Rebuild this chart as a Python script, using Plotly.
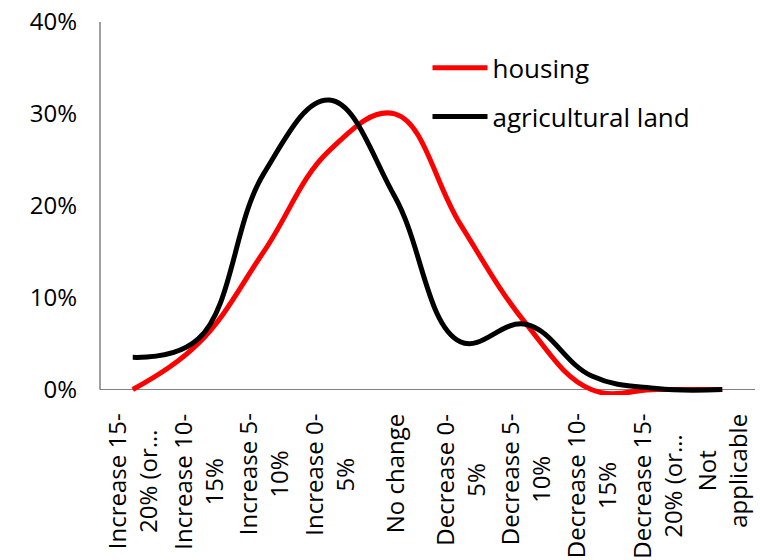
import plotly.graph_objects as go

# Expected price change categories (x axis)
categories = [
    "Increase 15-20% (or…",
    "Increase 10-15%",
    "Increase 5-10%",
    "Increase 0-5%",
    "No change",
    "Decrease 0-5%",
    "Decrease 5-10%",
    "Decrease 10-15%",
    "Decrease 15-20% (or…",
    "Not applicable",
]

# Wrapped text shown under the axis for each category
tick_labels = [
    "Increase 15-<br>20% (or…",
    "Increase 10-<br>15%",
    "Increase 5-<br>10%",
    "Increase 0-<br>5%",
    "No change",
    "Decrease 0-<br>5%",
    "Decrease 5-<br>10%",
    "Decrease 10-<br>15%",
    "Decrease 15-<br>20% (or…",
    "Not<br>applicable",
]

# Share of respondents (%)
housing = [0, 5, 15, 26, 30, 18, 7.2, 0, 0, 0]
agricultural_land = [3.5, 5.5, 23.5, 31.5, 21, 5.2, 7.1, 1.5, 0.1, 0]

y_ticks = [0, 10, 20, 30, 40]
y_tick_text = ["0%", "10%", "20%", "30%", "40%"]

FONT = "Open Sans"
SMOOTH = 1.15

fig = go.Figure()
fig.add_trace(go.Scatter(
    x=categories, y=housing, name="housing", mode="lines",
    line=dict(color="#FF0000", width=5, shape="spline", smoothing=SMOOTH),
    legendgroup="h",
))
fig.add_trace(go.Scatter(
    x=categories, y=agricultural_land, name="agricultural land", mode="lines",
    line=dict(color="#000000", width=5, shape="spline", smoothing=SMOOTH),
    legendgroup="a",
))

# Rotated, centred category labels below the axis
for cat, lab in zip(categories, tick_labels):
    fig.add_annotation(
        x=cat, xref="x", y=0, yref="y",
        text=lab, textangle=-90, align="center",
        xanchor="center", yanchor="top", yshift=-22,
        showarrow=False,
        font=dict(family=FONT, size=24, color="#000000"),
    )

# Vertical axis line from 0% up to the top of the scale
fig.add_shape(
    type="line", xref="paper", yref="y",
    x0=0, x1=0, y0=0, y1=y_ticks[-1],
    line=dict(color="#404040", width=1),
)

fig.update_layout(
    width=760, height=560,
    margin=dict(l=100, r=5, t=22, b=165),
    paper_bgcolor="white", plot_bgcolor="white",
    font=dict(family=FONT, size=24, color="#000000"),
    showlegend=True,
    legend=dict(
        x=0.5, y=0.94, xanchor="left", yanchor="top",
        bgcolor="rgba(0,0,0,0)",
        font=dict(family=FONT, size=26, color="#000000"),
        tracegroupgap=12, itemwidth=55,
    ),
    xaxis=dict(
        type="category", categoryorder="array", categoryarray=categories,
        range=[-0.5, len(categories) - 0.5],
        showticklabels=False, showgrid=False, showline=False, zeroline=False,
        ticks="",
    ),
    yaxis=dict(
        range=[-0.6, 40],
        tickmode="array", tickvals=y_ticks, ticktext=y_tick_text,
        showgrid=False, showline=False,
        zeroline=True, zerolinecolor="#808080", zerolinewidth=1,
        ticks="", ticklabelstandoff=22,
        tickfont=dict(family=FONT, size=24, color="#000000"),
    ),
)

fig.write_html("out.html")
